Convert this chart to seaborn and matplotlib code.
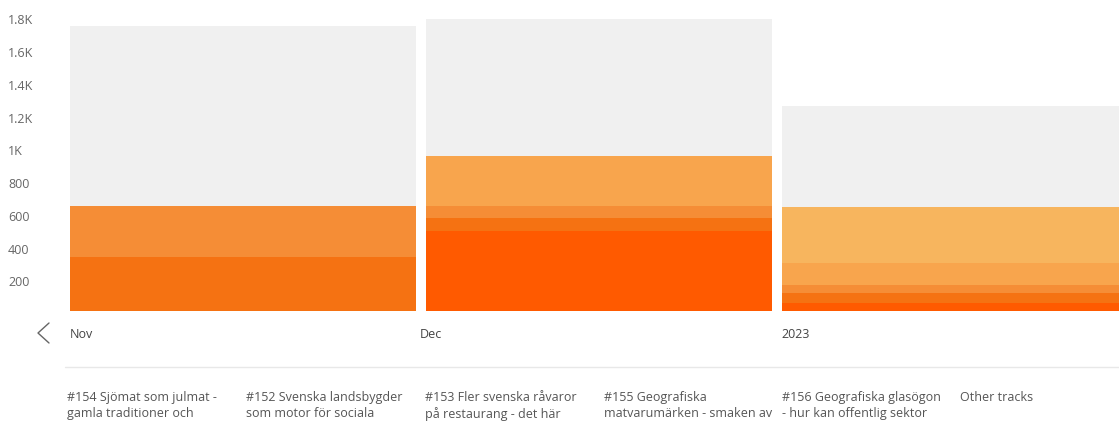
import numpy as np
import pandas as pd
import matplotlib
matplotlib.use('Agg')
import matplotlib.pyplot as plt
from matplotlib.lines import Line2D
from matplotlib.transforms import ScaledTranslation
import seaborn as sns

# data
months = ['Nov', 'Dec', '2023']
tracks = ['#154', '#152', '#153', '#155', '#156', 'Other tracks']
plays_154 = [0, 491, 51]
plays_152 = [332, 79, 59]
plays_153 = [309, 73, 49]
plays_155 = [0, 302, 132]
plays_156 = [0, 0, 346]
plays_other = [1100, 839, 616]

legend_labels = ['#154 Sjömat som julmat -\ngamla traditioner och',
                 '#152 Svenska landsbygder\nsom motor för sociala',
                 '#153 Fler svenska råvaror\npå restaurang - det här',
                 '#155 Geografiska\nmatvarumärken - smaken av',
                 '#156 Geografiska glasögon\n- hur kan offentlig sektor',
                 'Other tracks']
track_colors = ['#FF5A00', '#F57212', '#F58D36', '#F8A54D', '#F7B55E', '#F0F0F0']

ytick_vals = [200, 400, 600, 800, 1000, 1200, 1400, 1600, 1800]
ytick_labels = ['200', '400', '600', '800', '1K', '1.2K', '1.4K', '1.6K', '1.8K']

sns.set_theme(style='white')
plt.rcParams['font.family'] = ['Open Sans', 'DejaVu Sans']

df = pd.DataFrame({'month': months})
series = [plays_154, plays_152, plays_153, plays_155, plays_156, plays_other]
cum = np.cumsum(np.array(series), axis=0)
for i, t in enumerate(tracks):
    df[t] = cum[i]

fig = plt.figure(figsize=(11.19, 4.36), dpi=100)
ax = fig.add_axes([70 / 1119, 125 / 436, 1049 / 1119, 311 / 436])

# stacked bars: draw cumulative totals from the top down
for i in range(len(tracks) - 1, -1, -1):
    sns.barplot(data=df, x='month', y=tracks[i], order=months, color=track_colors[i],
                width=0.972, linewidth=0, saturation=1, ax=ax, errorbar=None)

ax.set_xlim(-0.486, 2.461)
ax.set_ylim(0, 1900)
for s in ax.spines.values():
    s.set_visible(False)
ax.set_xlabel('')
ax.set_ylabel('')
ax.set_xticks([])
ax.set_yticks(ytick_vals)
ax.set_yticklabels(ytick_labels)
ax.tick_params(axis='y', length=0, pad=44.6, labelsize=9, labelcolor='#666666')
for lab in ax.get_yticklabels():
    lab.set_horizontalalignment('left')
    lab.set_transform(lab.get_transform() + ScaledTranslation(0, -3 / 100, fig.dpi_scale_trans))

# month labels under the bars (Dec sits in the gap)
month_shift = [0, -6, 0]
for i, m in enumerate(months):
    t = ax.text(i - 0.486, -23 / 311, m, transform=ax.get_xaxis_transform(),
                ha='left', va='center', fontsize=9, color='#444444')
    t.set_transform(t.get_transform() + ScaledTranslation(month_shift[i] / 100, 0, fig.dpi_scale_trans))

# left arrow
fig.add_artist(Line2D([49 / 1119, 38 / 1119, 49 / 1119],
                      [1 - 323 / 436, 1 - 333 / 436, 1 - 343 / 436],
                      color='#666666', linewidth=1.0, transform=fig.transFigure))

# separator line
fig.add_artist(Line2D([65 / 1119, 1.0], [1 - 367 / 436, 1 - 367 / 436],
                      color='#E8E8E8', linewidth=1.0, transform=fig.transFigure))

# legend
legend_x = [67, 246, 425, 604, 782, 960]
for x, lab in zip(legend_x, legend_labels):
    fig.text(x / 1119, 1 - 391 / 436, lab, ha='left', va='top', fontsize=9,
             color='#555555', linespacing=1.25)

plt.savefig('out.png', dpi=100)
